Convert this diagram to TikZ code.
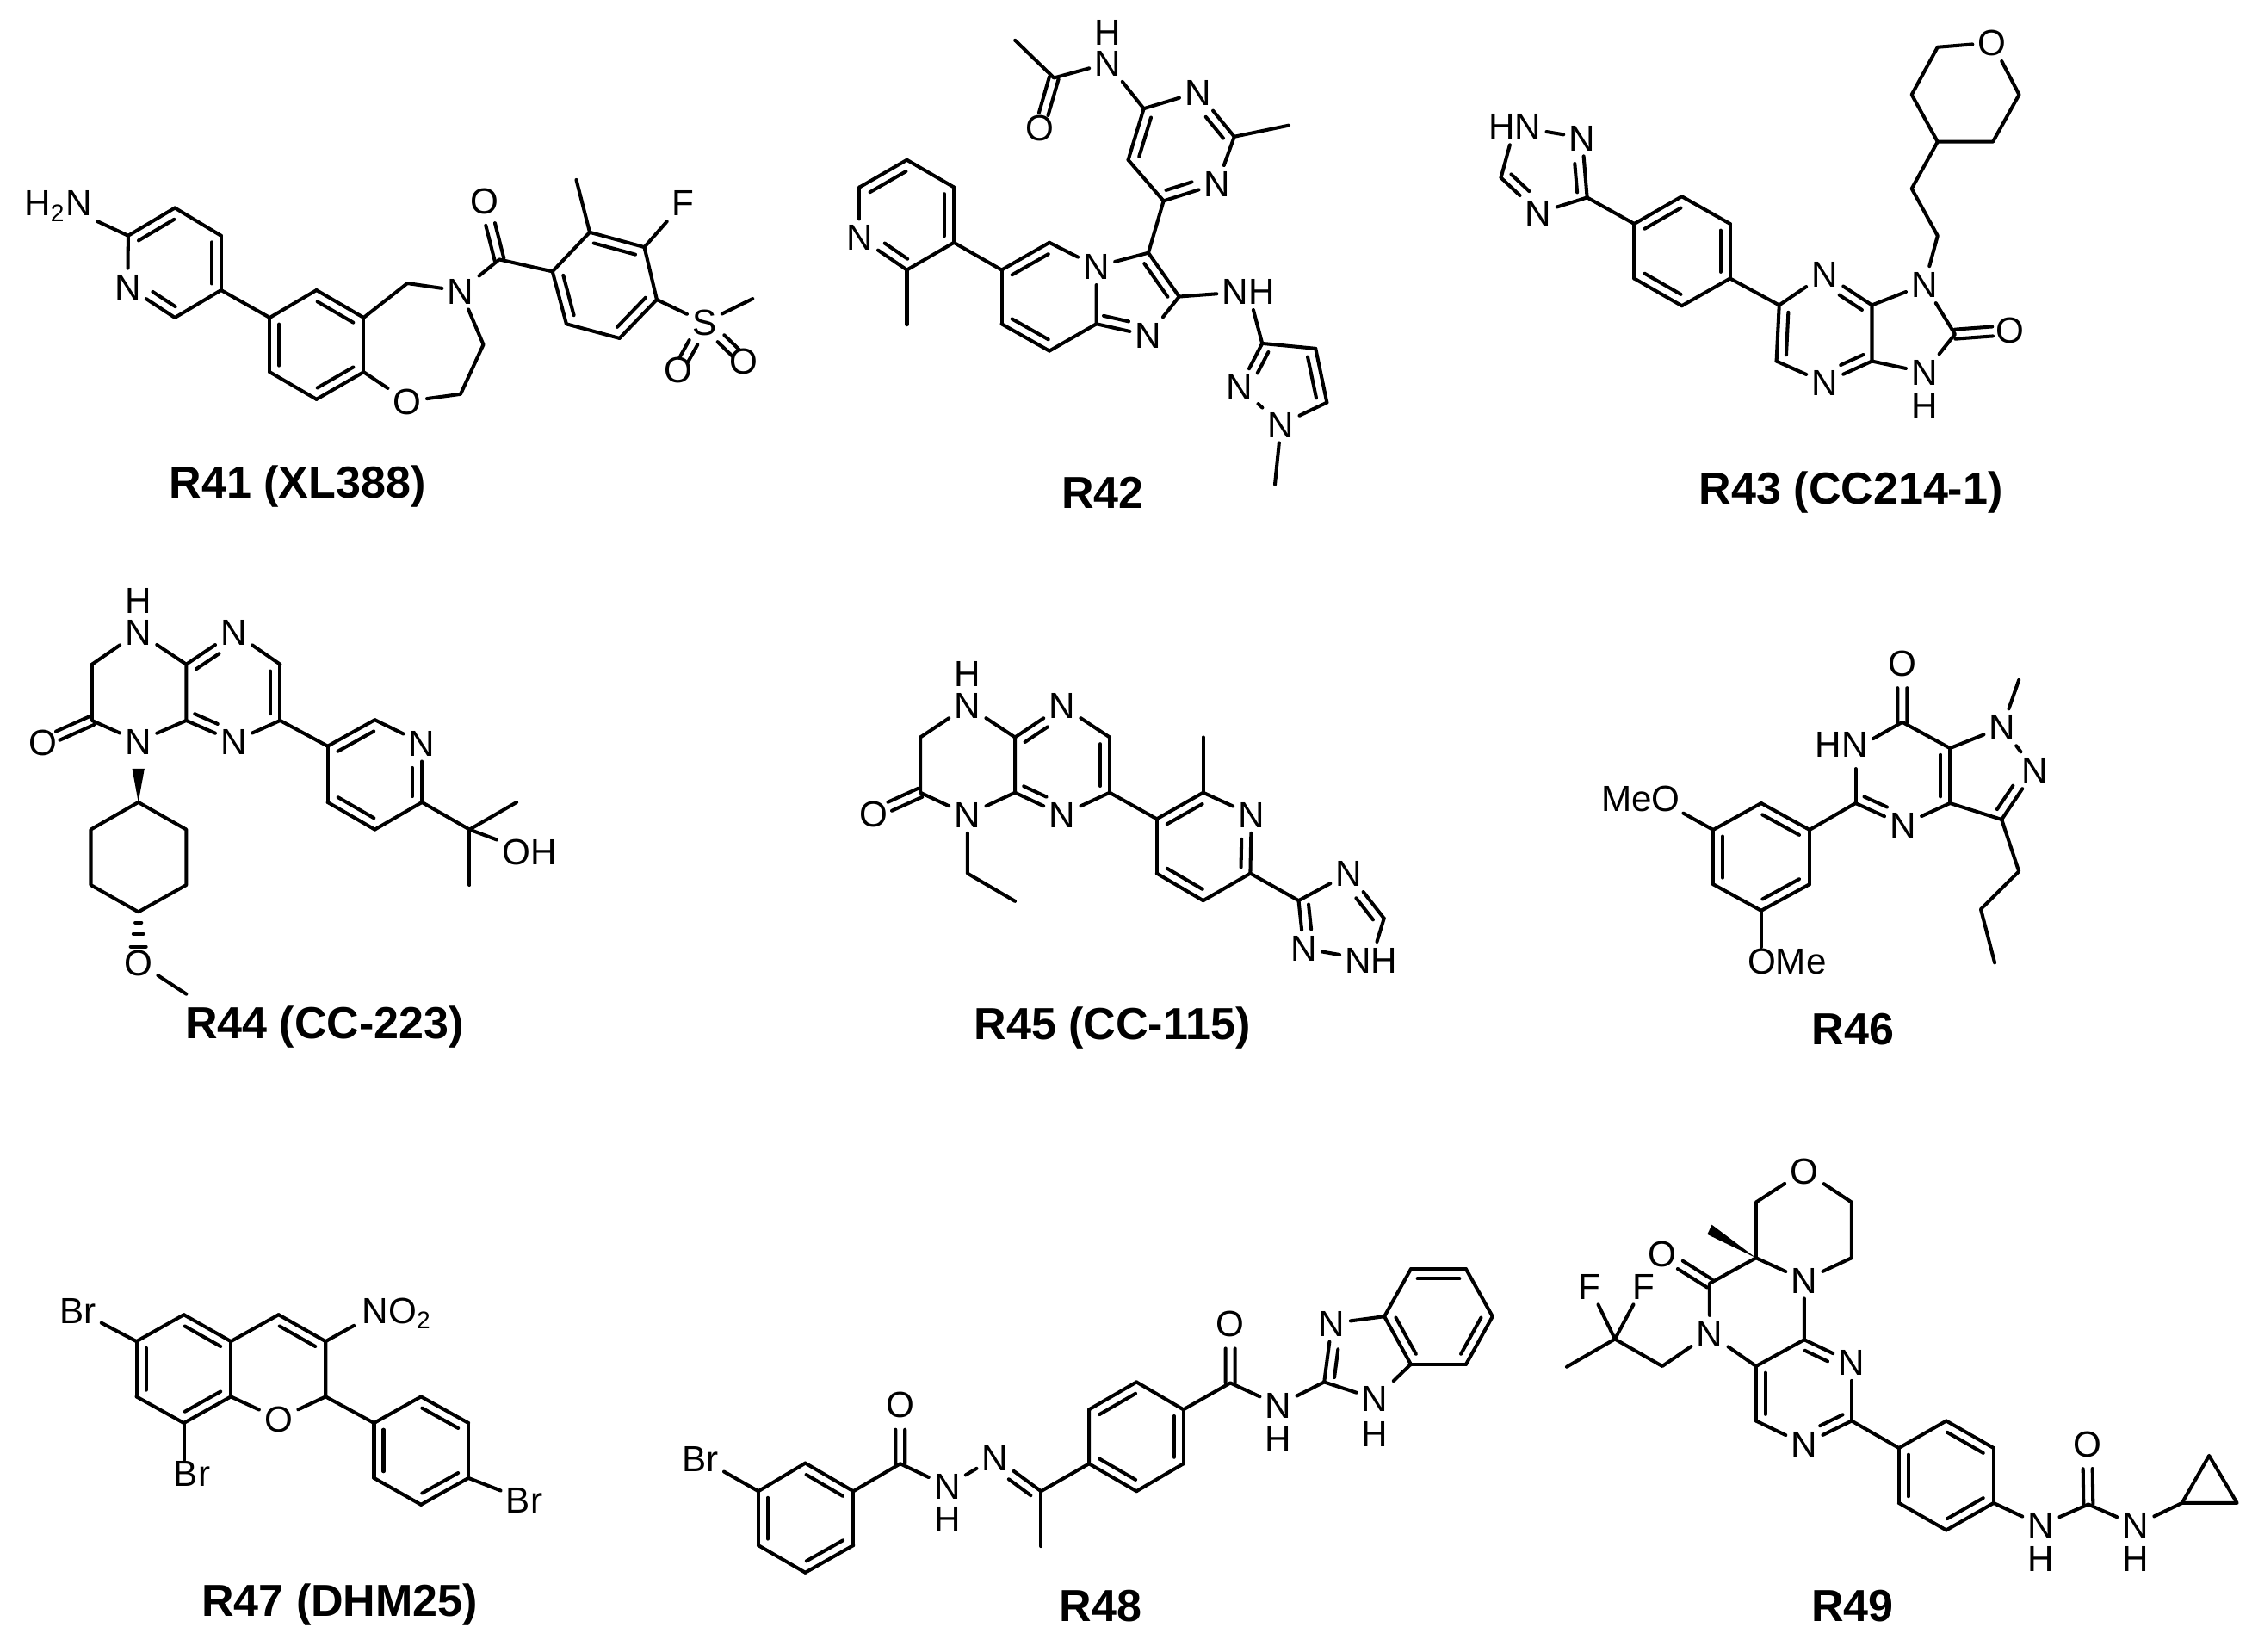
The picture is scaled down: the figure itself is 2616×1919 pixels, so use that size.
\documentclass[tikz,border=0pt]{standalone}
\usepackage{fontspec}
\setmainfont{Liberation Sans}
\usetikzlibrary{calc}
\newcommand\dgap{0.11cm}
\newcommand\dhalf{0.055cm}
\newcommand\dbl[3]{\draw [bond] (#1) -- (#2); \draw [bond] ($(#1)!.12!(#2)!\dgap!#3:(#2)$) -- ($(#1)!.88!(#2)!\dgap!#3:(#2)$);}
\newcommand\dblx[5]{\draw [bond] (#1) -- (#2); \draw [bond] ($(#1)!#4!(#2)!\dgap!#3:(#2)$) -- ($(#1)!#5!(#2)!\dgap!#3:(#2)$);}
\newcommand\dblc[4]{\draw [bond] ($(#1)!#3!(#2)!\dhalf!90:(#2)$) -- ($(#1)!#4!(#2)!\dhalf!90:(#2)$); \draw [bond] ($(#1)!#3!(#2)!\dhalf!-90:(#2)$) -- ($(#1)!#4!(#2)!\dhalf!-90:(#2)$);}
\tikzset{
  bond/.style={line width=1.15pt, line cap=round, line join=round},
  atom/.style={font=\fontsize{12}{12}\selectfont, inner sep=1.8pt, outer sep=0pt, text height=8.6pt, text depth=0pt},
  title/.style={font=\fontsize{14.8}{14.8}\selectfont\bfseries, inner sep=0pt, text height=10.6pt, text depth=0pt},
}
\begin{document}
\begin{tikzpicture}[x=0.01cm,y=-0.01cm]
\useasboundingbox (0,0) rectangle (2616,1919);

\begin{scope}[shift={(0,150)},x=0.00577cm,y=-0.003333cm]
\coordinate (a1) at (352,275);
\coordinate (a2) at (445,372);
\coordinate (a3) at (445,562);
\coordinate (a4) at (352,658);
\coordinate (a6) at (258,372);
\node [atom] (aN) at (257,550) {N};
\node [atom] (aNH) at (117,258) {H\textsubscript{2}N};
\coordinate (a7) at (543,658);
\coordinate (a8) at (637,562);
\coordinate (a9) at (732,658);
\coordinate (a10) at (732,848);
\coordinate (a11) at (637,943);
\coordinate (a12) at (543,848);
\coordinate (a13) at (820,538);
\node [atom] (aN2) at (927,565) {N};
\node [atom] (aO) at (820,950) {O};
\coordinate (a14) at (927,925);
\coordinate (a15) at (973,752);
\coordinate (a16) at (1005,455);
\node [atom] (aO2) at (975,250) {O};
\coordinate (a17) at (1112,497);
\coordinate (a18) at (1187,360);
\coordinate (a19) at (1297,412);
\coordinate (a20) at (1322,595);
\coordinate (a21) at (1247,730);
\coordinate (a22) at (1140,680);
\coordinate (a23) at (1160,177);
\node [atom] (aF) at (1375,258) {F};
\node [atom] (aS) at (1418,675) {S};
\coordinate (a24) at (1515,592);
\node [atom] (aO3) at (1365,840) {O};
\node [atom] (aO4) at (1497,808) {O};
\draw [bond] (a1) -- (a2);
\dbl{a2}{a3}{-90}
\draw [bond] (a3) -- (a4);
\dblx{a4}{aN}{-90}{.1}{.58}
\draw [bond] (aN) -- (a6);
\dbl{a6}{a1}{-90}
\draw [bond] (a6) -- (aNH);
\draw [bond] (a3) -- (a7) -- (a8);
\dbl{a8}{a9}{-90}
\draw [bond] (a9) -- (a10);
\dbl{a10}{a11}{-90}
\draw [bond] (a11) -- (a12);
\dbl{a12}{a7}{-90}
\draw [bond] (a9) -- (a13) -- (aN2) -- (a15) -- (a14) -- (aO) -- (a10);
\draw [bond] (aN2) -- (a16) -- (a17) -- (a18);
\dblc{a16}{aO2}{0}{.6}
\dbl{a18}{a19}{-90}
\draw [bond] (a19) -- (a20);
\dbl{a20}{a21}{-90}
\draw [bond] (a21) -- (a22);
\dbl{a22}{a17}{-90}
\draw [bond] (a18) -- (a23);
\draw [bond] (a19) -- (aF);
\draw [bond] (a20) -- (aS) -- (a24);
\dblc{aS}{aO3}{.42}{.8}
\dblc{aS}{aO4}{.42}{.8}
\node [title] (t41) at (599,1233) {R41 (XL388)};
\end{scope}

\begin{scope}[shift={(950,0)},x=0.0041026cm,y=-0.0039746cm]
\coordinate (b1) at (558,118);
\coordinate (b2) at (668,228);
\node [atom] (bO) at (627,375) {O};
\node [atom] (bN) at (820,185) {N};
\node [atom] (bH) at (820,95) {H};
\coordinate (b3) at (922,318);
\node [atom] (bN2) at (1075,270) {N};
\coordinate (b4) at (1178,400);
\coordinate (b5) at (1332,367);
\node [atom] (bN3) at (1130,538) {N};
\coordinate (b6) at (978,588);
\coordinate (b7) at (878,468);
\coordinate (b8) at (935,740);
\coordinate (b9) at (1022,868);
\node [atom] (bN4) at (935,982) {N};
\coordinate (b10) at (788,948);
\node [atom] (bN5) at (788,780) {N};
\coordinate (b11) at (655,710);
\coordinate (b12) at (520,790);
\coordinate (b13) at (520,948);
\coordinate (b14) at (655,1027);
\coordinate (b15) at (385,710);
\coordinate (b16) at (385,548);
\coordinate (b17) at (252,468);
\coordinate (b18) at (118,548);
\node [atom] (bN6) at (118,695) {N};
\coordinate (b19) at (252,790);
\coordinate (b20) at (252,950);
\node [atom] (bNH) at (1218,853) {NH};
\coordinate (b21) at (1257,1005);
\coordinate (b22) at (1408,1020);
\coordinate (b23) at (1440,1178);
\node [atom] (bN7) at (1310,1242) {N};
\node [atom] (bN8) at (1193,1133) {N};
\coordinate (b24) at (1293,1418);
\draw [bond] (b1) -- (b2) -- (bN) -- (b3) -- (bN2);
\dblc{b2}{bO}{0}{.72}
\dblx{bN2}{b4}{-90}{.42}{.9}
\draw [bond] (b4) -- (bN3);
\draw [bond] (b4) -- (b5);
\dblx{bN3}{b6}{-90}{.42}{.9}
\draw [bond] (b6) -- (b7);
\dbl{b7}{b3}{-90}
\draw [bond] (b6) -- (b8);
\dbl{b8}{b9}{-90}
\draw [bond] (b9) -- (bN4);
\dblx{bN4}{b10}{-90}{.42}{.9}
\draw [bond] (b10) -- (bN5) -- (b8);
\draw [bond] (bN5) -- (b11);
\dbl{b12}{b11}{-90}
\draw [bond] (b12) -- (b13);
\dbl{b13}{b14}{90}
\draw [bond] (b14) -- (b10);
\draw [bond] (b12) -- (b15);
\dbl{b16}{b15}{-90}
\dbl{b18}{b17}{-90}
\dblx{bN6}{b19}{90}{.42}{.9}
\draw [bond] (b19) -- (b15);
\draw [bond] (b16) -- (b17);
\draw [bond] (b18) -- (bN6);
\draw [bond] (b19) -- (b20);
\draw [bond] (b9) -- (bNH) -- (b21);
\dblx{b21}{bN8}{90}{.1}{.58}
\draw [bond] (b21) -- (b22);
\dbl{b22}{b23}{-90}
\draw [bond] (b23) -- (bN7) -- (bN8);
\draw [bond] (bN7) -- (b24);
\node [title] (t42) at (806,1442) {R42};
\end{scope}

\begin{scope}[shift={(1700,0)},x=0.004486cm,y=-0.0039746cm]
\node [atom] (cO) at (1368,125) {O};
\coordinate (c1) at (1227,138);
\coordinate (c2) at (1160,277);
\coordinate (c3) at (1227,415);
\coordinate (c4) at (1370,415);
\coordinate (c5) at (1438,277);
\coordinate (c6) at (1160,552);
\coordinate (c7) at (1227,690);
\node [atom] (cN) at (1193,833) {N};
\coordinate (c8) at (1272,978);
\node [atom] (cO2) at (1415,966) {O};
\node [atom] (cN2) at (1193,1090) {N};
\node [atom] (cH) at (1193,1187) {H};
\coordinate (c9) at (1057,893);
\coordinate (c10) at (1057,1057);
\node [atom] (cN3) at (935,802) {N};
\node [atom] (cN4) at (935,1120) {N};
\coordinate (c11) at (817,893);
\coordinate (c12) at (810,1057);
\coordinate (c13) at (690,815);
\coordinate (c14) at (690,655);
\coordinate (c15) at (565,575);
\coordinate (c16) at (442,655);
\coordinate (c17) at (442,815);
\coordinate (c18) at (565,895);
\coordinate (c19) at (320,578);
\node [atom] (cN5) at (307,403) {N};
\node [atom] (cNH) at (133,370) {HN};
\coordinate (c20) at (97,520);
\node [atom] (cN6) at (194,623) {N};
\draw [bond] (cO) -- (c1) -- (c2) -- (c3) -- (c4) -- (c5) -- (cO);
\draw [bond] (c3) -- (c6) -- (c7) -- (cN) -- (c8) -- (cN2) -- (c10) -- (c9) -- (cN);
\dblc{c8}{cO2}{0}{.68}
\dblx{cN3}{c9}{-90}{.42}{.9}
\dblx{c10}{cN4}{-90}{.1}{.58}
\draw [bond] (cN4) -- (c12);
\dbl{c12}{c11}{-90}
\draw [bond] (c11) -- (cN3);
\draw [bond] (c11) -- (c13);
\dbl{c14}{c13}{-90}
\draw [bond] (c13) -- (c18);
\dbl{c18}{c17}{-90}
\draw [bond] (c17) -- (c16);
\dbl{c16}{c15}{-90}
\draw [bond] (c15) -- (c14);
\draw [bond] (c16) -- (c19);
\dblx{c19}{cN5}{90}{.1}{.58}
\draw [bond] (cN5) -- (cNH) -- (c20);
\dblx{c20}{cN6}{90}{.1}{.58}
\draw [bond] (cN6) -- (c19);
\node [title] (t43) at (1003,1427) {R43 (CC214-1)};
\end{scope}

\begin{scope}[shift={(0,660)},x=0.004486cm,y=-0.0037175cm]
\node [atom] (dN) at (358,200) {N};
\node [atom] (dH) at (358,100) {H};
\node [atom] (dN2) at (605,200) {N};
\node [atom] (dN3) at (605,540) {N};
\node [atom] (dN4) at (358,540) {N};
\coordinate (d1) at (238,300);
\coordinate (d2) at (482,300);
\coordinate (d3) at (482,475);
\coordinate (d4) at (238,475);
\coordinate (d5) at (725,300);
\coordinate (d6) at (725,475);
\node [atom] (dO) at (112,543) {O};
\coordinate (d7) at (848,555);
\coordinate (d8) at (970,473);
\node [atom] (dN5) at (1092,545) {N};
\coordinate (d9) at (1092,730);
\coordinate (d10) at (970,815);
\coordinate (d11) at (848,730);
\coordinate (d12) at (1215,815);
\coordinate (d13) at (1337,730);
\coordinate (d14) at (1215,988);
\node [atom] (dOH) at (1370,885) {OH};
\coordinate (d15) at (358,730);
\coordinate (d16) at (342,625);
\coordinate (d17) at (374,625);
\coordinate (d18) at (482,815);
\coordinate (d19) at (482,988);
\coordinate (d20) at (358,1072);
\coordinate (d21) at (235,988);
\coordinate (d22) at (235,815);
\node [atom] (dO2) at (358,1230) {O};
\coordinate (d23) at (482,1328);
\draw [bond] (d1) -- (dN) -- (d2);
\draw [bond] (d1) -- (d4) -- (dN4) -- (d3) -- (d2);
\dblc{d4}{dO}{0}{.7}
\dblx{d2}{dN2}{-90}{.1}{.58}
\draw [bond] (dN2) -- (d5);
\dbl{d5}{d6}{-90}
\draw [bond] (d6) -- (dN3);
\dblx{dN3}{d3}{-90}{.42}{.9}
\draw [bond] (d6) -- (d7);
\dbl{d7}{d8}{-90}
\draw [bond] (d8) -- (dN5);
\dblx{dN5}{d9}{-90}{.42}{.9}
\draw [bond] (d9) -- (d10);
\dbl{d10}{d11}{-90}
\draw [bond] (d11) -- (d7);
\draw [bond] (d9) -- (d12) -- (d13);
\draw [bond] (d12) -- (d14);
\draw [bond] (d12) -- (dOH);
\fill (d15) -- (d16) -- (d17) -- cycle;
\draw [bond] (d15) -- (d18) -- (d19) -- (d20) -- (d21) -- (d22) -- (d15);
\draw [bond] (350,1105) -- (366,1105);
\draw [bond] (345,1140) -- (371,1140);
\draw [bond] (338,1180) -- (378,1180);
\draw [bond] (dO2) -- (d23);
\node [title] (t44) at (840,1416) {R44 (CC-223)};
\end{scope}

\begin{scope}[shift={(960,740)},x=0.004486cm,y=-0.003333cm]
\node [atom] (eN) at (365,240) {N};
\node [atom] (eH) at (365,127) {H};
\node [atom] (eN2) at (610,240) {N};
\node [atom] (eN3) at (610,620) {N};
\node [atom] (eN4) at (365,620) {N};
\coordinate (e1) at (243,350);
\coordinate (e2) at (488,350);
\coordinate (e3) at (488,543);
\coordinate (e4) at (243,543);
\coordinate (e5) at (733,350);
\coordinate (e6) at (733,543);
\node [atom] (eO) at (122,617) {O};
\coordinate (e7) at (855,635);
\coordinate (e8) at (975,543);
\node [atom] (eN5) at (1100,620) {N};
\coordinate (e9) at (1097,825);
\coordinate (e10) at (975,920);
\coordinate (e11) at (855,825);
\coordinate (e12) at (975,350);
\coordinate (e13) at (365,825);
\coordinate (e14) at (488,922);
\coordinate (e15) at (1222,920);
\node [atom] (eN6) at (1352,825) {N};
\coordinate (e16) at (1443,982);
\node [atom] (eNH) at (1410,1128) {NH};
\node [atom] (eN7) at (1235,1087) {N};
\draw [bond] (e1) -- (eN) -- (e2);
\draw [bond] (e1) -- (e4) -- (eN4) -- (e3) -- (e2);
\dblc{e4}{eO}{0}{.65}
\dblx{e2}{eN2}{-90}{.1}{.58}
\draw [bond] (eN2) -- (e5);
\dbl{e5}{e6}{-90}
\draw [bond] (e6) -- (eN3);
\dblx{eN3}{e3}{-90}{.42}{.9}
\draw [bond] (e6) -- (e7);
\dbl{e7}{e8}{-90}
\draw [bond] (e8) -- (eN5);
\dblx{eN5}{e9}{-90}{.42}{.9}
\draw [bond] (e9) -- (e10);
\dbl{e10}{e11}{-90}
\draw [bond] (e11) -- (e7);
\draw [bond] (e8) -- (e12);
\draw [bond] (eN4) -- (e13) -- (e14);
\draw [bond] (e9) -- (e15) -- (eN6);
\dblx{e15}{eN7}{90}{.1}{.62}
\dblx{eN6}{e16}{-90}{.42}{.9}
\draw [bond] (eN7) -- (eNH) -- (e16);
\node [title] (t45) at (740,1350) {R45 (CC-115)};
\end{scope}

\begin{scope}[shift={(1820,730)},x=0.003846cm,y=-0.003333cm]
\node [atom] (fO) at (1013,120) {O};
\coordinate (f1) at (1013,327);
\node [atom] (fNH) at (830,403) {HN};
\coordinate (f2) at (1157,418);
\coordinate (f3) at (1157,610);
\node [atom] (fN) at (1315,345) {N};
\coordinate (f4) at (1365,180);
\node [atom] (fN2) at (1413,495) {N};
\coordinate (f5) at (1313,667);
\node [atom] (fN3) at (1015,685) {N};
\coordinate (f6) at (872,610);
\coordinate (f7) at (733,703);
\coordinate (f8) at (587,610);
\coordinate (f9) at (442,703);
\coordinate (f10) at (442,893);
\coordinate (f11) at (587,985);
\coordinate (f12) at (733,893);
\node [atom] (fMeO) at (223,592) {MeO};
\coordinate (f13) at (352,645);
\node [atom] (fOMe) at (665,1160) {OMe};
\coordinate (f14) at (587,1112);
\coordinate (f15) at (1365,848);
\coordinate (f16) at (1250,980);
\coordinate (f17) at (1292,1167);
\coordinate (f18) at (872,490);
\coordinate (f19) at (925,385);
\dblc{f1}{fO}{0}{.575}
\draw [bond] (f19) -- (f1) -- (f2);
\dbl{f2}{f3}{-90}
\draw [bond] (fN) -- (f2);
\draw [bond] (fN) -- (f4);
\draw [bond] (fN) -- (fN2);
\dblx{fN2}{f5}{-90}{.42}{.9}
\draw [bond] (f5) -- (f3) -- (fN3);
\dblx{fN3}{f6}{-90}{.42}{.9}
\draw [bond] (f6) -- (f18);
\draw [bond] (f6) -- (f7);
\dbl{f8}{f7}{-90}
\draw [bond] (f7) -- (f12);
\dbl{f12}{f11}{-90}
\draw [bond] (f11) -- (f10);
\dbl{f10}{f9}{-90}
\draw [bond] (f9) -- (f8);
\draw [bond] (f9) -- (f13);
\draw [bond] (f11) -- (f14);
\draw [bond] (f5) -- (f15) -- (f16) -- (f17);
\node [title] (t46) at (864,1397) {R46};
\end{scope}

\begin{scope}[shift={(30,1440)},x=0.0041026cm,y=-0.003333cm]
\coordinate (g1) at (447,262);
\coordinate (g2) at (580,355);
\coordinate (g3) at (580,548);
\coordinate (g4) at (447,640);
\coordinate (g5) at (313,548);
\coordinate (g6) at (313,355);
\coordinate (g7) at (715,262);
\coordinate (g8) at (848,355);
\coordinate (g9) at (848,548);
\node [atom] (gO) at (715,625) {O};
\node [atom] (gBr) at (147,247) {Br};
\node [atom] (gBr2) at (470,815) {Br};
\coordinate (g10) at (447,770);
\node [atom] (gNO) at (1050,247) {NO\textsubscript{2}};
\coordinate (g11) at (928,300);
\coordinate (g12) at (985,640);
\coordinate (g13) at (1118,548);
\coordinate (g14) at (1252,640);
\coordinate (g15) at (1252,832);
\coordinate (g16) at (1118,925);
\coordinate (g17) at (985,832);
\node [atom] (gBr3) at (1410,908) {Br};
\dbl{g1}{g2}{-90}
\draw [bond] (g2) -- (g3);
\dbl{g3}{g4}{-90}
\draw [bond] (g4) -- (g5);
\dbl{g5}{g6}{-90}
\draw [bond] (g6) -- (g1);
\draw [bond] (g2) -- (g7);
\dbl{g7}{g8}{-90}
\draw [bond] (g8) -- (g9) -- (gO) -- (g3);
\draw [bond] (g6) -- (gBr);
\draw [bond] (g4) -- (g10);
\draw [bond] (g8) -- (g11);
\draw [bond] (g9) -- (g12) -- (g13);
\dbl{g13}{g14}{-90}
\draw [bond] (g14) -- (g15);
\dbl{g15}{g16}{-90}
\draw [bond] (g16) -- (g17);
\dbl{g17}{g12}{-90}
\draw [bond] (g15) -- (gBr3);
\node [title] (t47) at (888,1260) {R47 (DHM25)};
\end{scope}

\begin{scope}[shift={(770,1450)},x=0.00641cm,y=-0.003333cm]
\coordinate (h1) at (258,750);
\coordinate (h2) at (345,848);
\coordinate (h3) at (345,1037);
\coordinate (h4) at (258,1132);
\coordinate (h5) at (173,1037);
\coordinate (h6) at (173,848);
\node [atom] (hBr) at (68,733) {Br};
\coordinate (h7) at (430,752);
\node [atom] (hO) at (430,545) {O};
\node [atom] (hN) at (515,830) {N};
\node [atom] (hH) at (515,945) {H};
\node [atom] (hN2) at (602,730) {N};
\coordinate (h8) at (685,848);
\coordinate (h9) at (685,1040);
\coordinate (h10) at (772,752);
\coordinate (h11) at (772,563);
\coordinate (h12) at (858,467);
\coordinate (h13) at (943,563);
\coordinate (h14) at (943,752);
\coordinate (h15) at (858,848);
\coordinate (h16) at (1028,470);
\node [atom] (hO2) at (1028,263) {O};
\node [atom] (hN3) at (1115,548) {N};
\node [atom] (hH2) at (1115,665) {H};
\coordinate (h17) at (1198,467);
\node [atom] (hN4) at (1212,262) {N};
\node [atom] (hN5) at (1290,525) {N};
\node [atom] (hH3) at (1290,648) {H};
\coordinate (h18) at (1307,238);
\coordinate (h19) at (1355,405);
\coordinate (h20) at (1455,405);
\coordinate (h21) at (1503,238);
\coordinate (h22) at (1455,73);
\coordinate (h23) at (1355,73);
\dbl{h1}{h2}{-90}
\draw [bond] (h2) -- (h3);
\dbl{h3}{h4}{-90}
\draw [bond] (h4) -- (h5);
\dbl{h5}{h6}{-90}
\draw [bond] (h6) -- (h1);
\draw [bond] (h6) -- (hBr);
\draw [bond] (h2) -- (h7) -- (hN) -- (hN2);
\dblc{h7}{hO}{0}{.575}
\dblx{hN2}{h8}{-90}{.42}{.9}
\draw [bond] (h8) -- (h9);
\draw [bond] (h8) -- (h10) -- (h11);
\dbl{h11}{h12}{-90}
\draw [bond] (h12) -- (h13);
\dbl{h13}{h14}{-90}
\draw [bond] (h14) -- (h15);
\dbl{h15}{h10}{-90}
\draw [bond] (h13) -- (h16) -- (hN3) -- (h17) -- (hN5) -- (h19);
\dblc{h16}{hO2}{0}{.58}
\dblx{h17}{hN4}{-90}{.1}{.58}
\draw [bond] (hN4) -- (h18);
\dbl{h18}{h19}{90}
\draw [bond] (h19) -- (h20);
\dbl{h20}{h21}{90}
\draw [bond] (h21) -- (h22);
\dbl{h22}{h23}{90}
\draw [bond] (h23) -- (h18);
\node [title] (t48) at (793,1248) {R48};
\end{scope}

\begin{scope}[shift={(1800,1310)},x=0.00523cm,y=-0.003846cm]
\node [atom] (iO) at (565,130) {O};
\coordinate (i1) at (670,225);
\coordinate (i2) at (670,393);
\node [atom] (iN) at (565,460) {N};
\coordinate (i3) at (458,393);
\coordinate (i4) at (458,225);
\coordinate (i5) at (360,293);
\coordinate (i6) at (350,322);
\coordinate (i7) at (355,470);
\node [atom] (iO2) at (250,380) {O};
\node [atom] (iN2) at (355,622) {N};
\coordinate (i8) at (250,720);
\coordinate (i9) at (145,638);
\coordinate (i10) at (38,722);
\node [atom] (iF) at (88,478) {F};
\node [atom] (iF2) at (208,478) {F};
\coordinate (i11) at (458,720);
\coordinate (i12) at (565,640);
\node [atom] (iN3) at (670,708) {N};
\coordinate (i13) at (670,885);
\node [atom] (iN4) at (565,955) {N};
\coordinate (i14) at (458,885);
\coordinate (i15) at (775,967);
\coordinate (i16) at (880,885);
\coordinate (i17) at (985,967);
\coordinate (i18) at (985,1133);
\coordinate (i19) at (880,1215);
\coordinate (i20) at (775,1133);
\node [atom] (iN5) at (1090,1200) {N};
\node [atom] (iH) at (1090,1300) {H};
\coordinate (i21) at (1195,1137);
\node [atom] (iO3) at (1193,955) {O};
\node [atom] (iN6) at (1300,1200) {N};
\node [atom] (iH2) at (1300,1300) {H};
\coordinate (i22) at (1403,1133);
\coordinate (i23) at (1463,990);
\coordinate (i24) at (1525,1133);
\draw [bond] (iO) -- (i1) -- (i2) -- (iN) -- (i3) -- (i4) -- (iO);
\fill (i3) -- (i5) -- (i6) -- cycle;
\draw [bond] (i3) -- (i7) -- (iN2) -- (i8) -- (i9) -- (i10);
\dblc{i7}{iO2}{0}{.62}
\draw [bond] (i9) -- (iF);
\draw [bond] (i9) -- (iF2);
\draw [bond] (iN2) -- (i11) -- (i12) -- (iN);
\dblx{i12}{iN3}{-90}{.1}{.58}
\draw [bond] (iN3) -- (i13);
\dblx{i13}{iN4}{-90}{.1}{.58}
\draw [bond] (iN4) -- (i14);
\dbl{i14}{i11}{-90}
\draw [bond] (i13) -- (i15) -- (i16);
\dbl{i16}{i17}{-90}
\draw [bond] (i17) -- (i18);
\dbl{i18}{i19}{-90}
\draw [bond] (i19) -- (i20);
\dbl{i20}{i15}{-90}
\draw [bond] (i18) -- (iN5) -- (i21) -- (iN6) -- (i22) -- (i23) -- (i24) -- (i22);
\dblc{i21}{iO3}{0}{.59}
\node [title] (t49) at (672,1441) {R49};
\end{scope}
\end{tikzpicture}
\end{document}
